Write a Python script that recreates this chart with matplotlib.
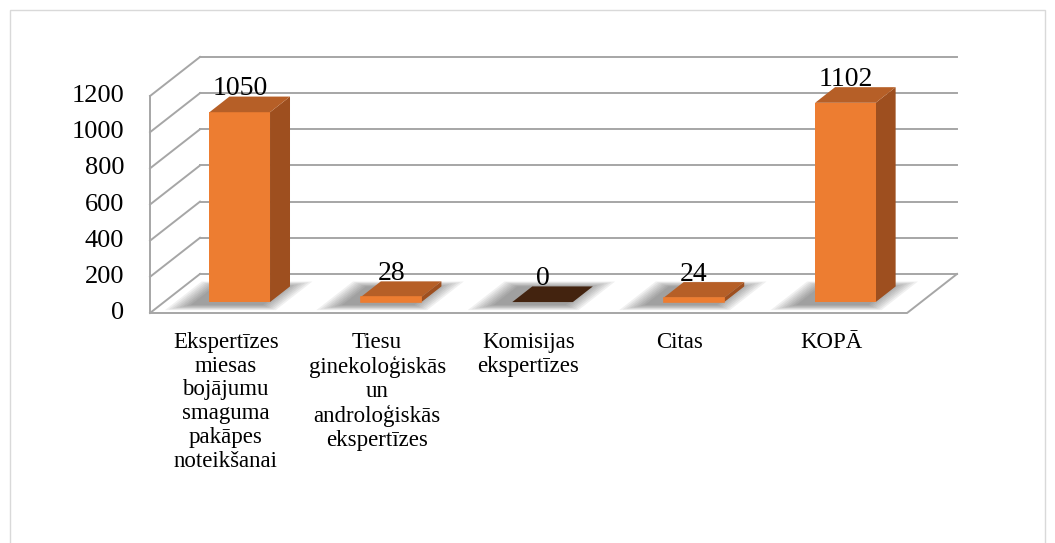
import matplotlib.pyplot as plt
from matplotlib.patches import Polygon, Rectangle

categories = ["Ekspertīzes\nmiesas\nbojājumu\nsmaguma\npakāpes\nnoteikšanai",
              "Tiesu\nginekoloģiskās\nun\nandroloģiskās\nekspertīzes",
              "Komisijas\nekspertīzes",
              "Citas",
              "KOPĀ"]
values = [1050, 28, 0, 24, 1102]
ticks = [0, 200, 400, 600, 800, 1000, 1200]

# depth of the 3d box, in category units (x) and value units (y)
DX = 0.33
DY = 216
D0, D1 = 0.28, 0.68      # bar depth range
BW = 0.40                # bar width

FRONT = '#ED7D31'
SIDE = '#9E4F1F'
TOP = '#B65F27'
ZERO_TOP = '#43230F'
GRID = '#A6A6A6'


def proj(x, v, d):
    return (x + d * DX, v + d * DY)


def make_plot():
    plt.rcParams['font.family'] = ['Liberation Serif', 'DejaVu Serif']
    fig = plt.figure(figsize=(10.55, 5.43), dpi=100)
    ax = fig.add_axes([0, 0, 1, 1])
    ax.set_xlim(-0.991, 5.977)
    ax.set_ylim(-1272, 1731)
    ax.axis('off')

    n = len(categories)
    top = ticks[-1]

    # walls and floor
    for t in ticks:
        ax.plot(*zip(proj(0, t, 1), proj(n, t, 1)), color=GRID, lw=1.4, zorder=1)
        ax.plot(*zip(proj(0, t, 0), proj(0, t, 1)), color=GRID, lw=1.4, zorder=1)
    ax.plot(*zip(proj(0, 0, 0), proj(0, top, 0)), color=GRID, lw=1.4, zorder=1)
    ax.plot(*zip(proj(0, 0, 0), proj(n, 0, 0), proj(n, 0, 1)), color=GRID, lw=1.4, zorder=1)

    for i, v in enumerate(values):
        x0 = i + 0.5 - BW / 2
        x1 = i + 0.5 + BW / 2

        # soft shadow on the floor
        for k in range(8):
            e = 0.018 * k
            pts = [proj(x0 - 0.1 - e, 0, D0 - 0.08 - e), proj(x1 - 0.02 + e, 0, D0 - 0.08 - e),
                   proj(x1 - 0.02 + e, 0, D1 + e), proj(x0 - 0.1 - e, 0, D1 + e)]
            ax.add_patch(Polygon(pts, closed=True, facecolor='#303030',
                                 edgecolor='none', alpha=0.07, zorder=2))

        front = [proj(x0, 0, D0), proj(x1, 0, D0), proj(x1, v, D0), proj(x0, v, D0)]
        side = [proj(x1, 0, D0), proj(x1, 0, D1), proj(x1, v, D1), proj(x1, v, D0)]
        topf = [proj(x0, v, D0), proj(x1, v, D0), proj(x1, v, D1), proj(x0, v, D1)]
        ax.add_patch(Polygon(side, closed=True, facecolor=SIDE, edgecolor='none', zorder=3))
        ax.add_patch(Polygon(front, closed=True, facecolor=FRONT, edgecolor='none', zorder=3))
        ax.add_patch(Polygon(topf, closed=True, facecolor=TOP if v > 0 else ZERO_TOP,
                             edgecolor='none', zorder=4))
        if 0 < v < 60:
            ax.add_patch(Polygon(front, closed=True, facecolor=FRONT,
                                 edgecolor=FRONT, lw=1.2, zorder=4))

        lx, ly = proj(i + 0.5, v, D0)
        ax.text(lx, ly + 95, str(v), ha='center', va='baseline', fontsize=20, zorder=5)

        ax.text(i + 0.5, -105, categories[i], ha='center', va='top',
                fontsize=16.5, linespacing=1.17)

    for t in ticks:
        ax.text(-0.17, t, str(t), ha='right', va='center', fontsize=19)

    fig.patches.append(Rectangle((0.0095, -0.05), 0.981, 1.0316, transform=fig.transFigure,
                                 fill=False, edgecolor='#D9D9D9', lw=1.0))

    fig.savefig('out.png', dpi=100)
    plt.close(fig)


if __name__ == '__main__':
    make_plot()
